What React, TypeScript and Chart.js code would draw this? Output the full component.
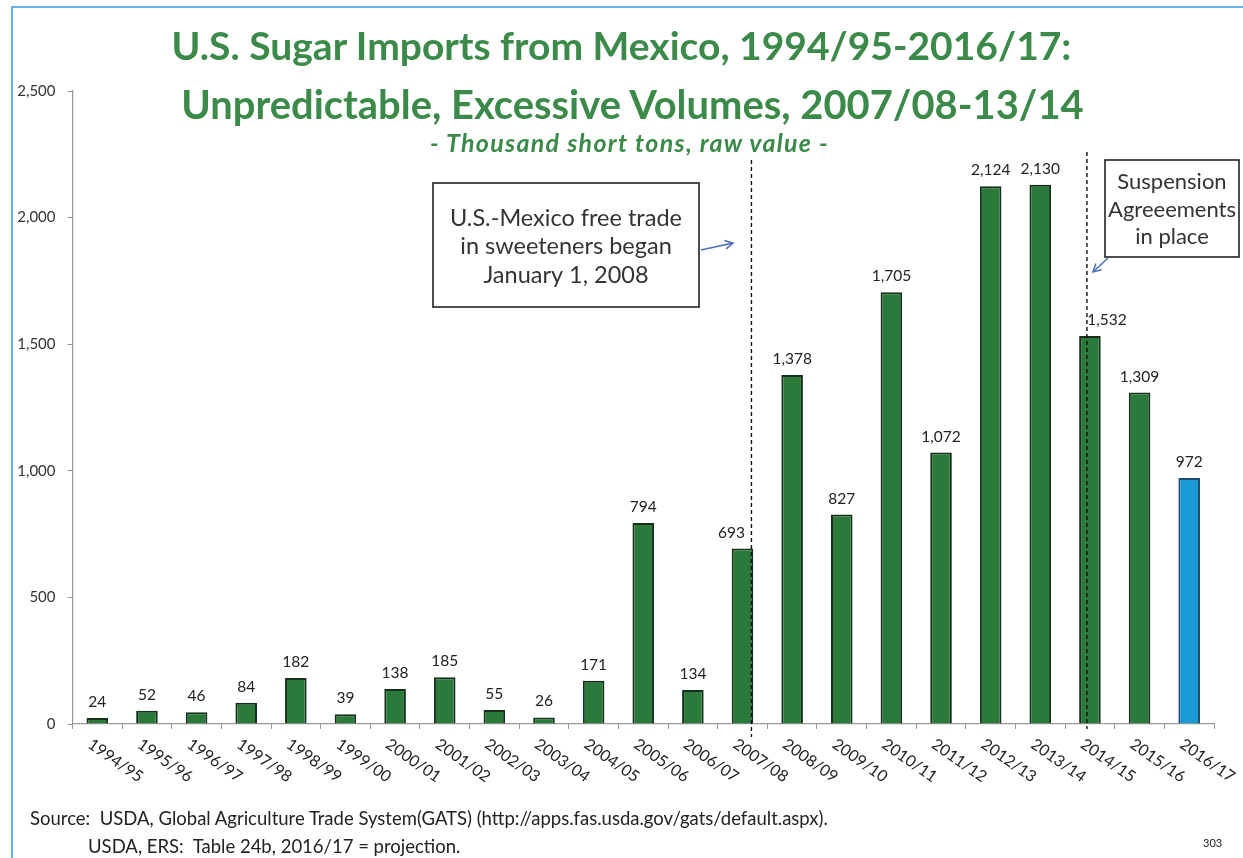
import React, { useEffect, useRef } from "react";
import { Chart, registerables } from "chart.js";

Chart.register(...registerables);

const categories = [
  "1994/95", "1995/96", "1996/97", "1997/98", "1998/99", "1999/00", "2000/01", "2001/02",
  "2002/03", "2003/04", "2004/05", "2005/06", "2006/07", "2007/08", "2008/09", "2009/10",
  "2010/11", "2011/12", "2012/13", "2013/14", "2014/15", "2015/16", "2016/17",
];
const imports = [24, 52, 46, 84, 182, 39, 138, 185, 55, 26, 171, 794, 134, 693, 1378, 827, 1705, 1072, 2124, 2130, 1532, 1309, 972];
const yTicks = [0, 500, 1000, 1500, 2000, 2500];
const projectionLabel = "2016/17";

const GREEN = "#2b7a3b";
const GREEN_EDGE = "#17301b";
const BLUE = "#1a9ad6";
const BLUE_EDGE = "#1b4d6b";
const TITLE_GREEN = "#3b8a4a";
const ARROW = "#4a6fc0";
const FONT = "Lato, 'Open Sans', sans-serif";

function fmt(n: number): string {
  return String(n).replace(/\B(?=(\d{3})+(?!\d))/g, ",");
}

function arrow(ctx: CanvasRenderingContext2D, x1: number, y1: number, x2: number, y2: number) {
  ctx.save();
  ctx.strokeStyle = ARROW;
  ctx.lineWidth = 1.5;
  ctx.beginPath();
  ctx.moveTo(x1, y1);
  ctx.lineTo(x2, y2);
  ctx.stroke();
  const a = Math.atan2(y2 - y1, x2 - x1);
  const h = 9;
  ctx.beginPath();
  ctx.moveTo(x2 - h * Math.cos(a - 0.5), y2 - h * Math.sin(a - 0.5));
  ctx.lineTo(x2, y2);
  ctx.lineTo(x2 - h * Math.cos(a + 0.5), y2 - h * Math.sin(a + 0.5));
  ctx.stroke();
  ctx.restore();
}

function box(ctx: CanvasRenderingContext2D, x: number, y: number, w: number, h: number, lines: string[], size: number, lineH: number, firstY: number) {
  ctx.save();
  ctx.fillStyle = "#fff";
  ctx.fillRect(x, y, w, h);
  ctx.strokeStyle = "#222";
  ctx.lineWidth = 1.6;
  ctx.strokeRect(x, y, w, h);
  ctx.fillStyle = "#333";
  ctx.font = `${size}px ${FONT}`;
  ctx.textAlign = "center";
  ctx.textBaseline = "middle";
  lines.forEach((l, i) => ctx.fillText(l, x + w / 2, firstY + i * lineH));
  ctx.restore();
}

const labelShift: Record<number, number> = { 13: -11, 20: 17 };

const overlayPlugin = {
  id: "overlay",
  afterDatasetsDraw(chart: any) {
    const { ctx } = chart;
    const xs = chart.scales.x;
    const meta = chart.getDatasetMeta(0);
    const step = xs.getPixelForValue(1) - xs.getPixelForValue(0);

    // value labels
    ctx.save();
    ctx.font = `15.5px ${FONT}`;
    ctx.fillStyle = "#222";
    ctx.textAlign = "center";
    ctx.textBaseline = "alphabetic";
    meta.data.forEach((bar: any, i: number) => {
      ctx.fillText(fmt(imports[i]), bar.x + (labelShift[i] || 0), bar.y - 11);
    });

    // rotated category labels
    ctx.textAlign = "left";
    ctx.textBaseline = "top";
    ctx.font = `16px ${FONT}`;
    categories.forEach((c, i) => {
      const px = xs.getPixelForValue(i);
      ctx.save();
      ctx.translate(px - 3, 736);
      ctx.rotate((35 * Math.PI) / 180);
      ctx.fillText(c, 0, 0);
      ctx.restore();
    });
    ctx.restore();

    // dashed event lines
    ctx.save();
    ctx.strokeStyle = "#111";
    ctx.lineWidth = 1.4;
    ctx.setLineDash([4, 3]);
    const x1 = xs.getPixelForValue(13) + 0.18 * step;
    ctx.beginPath();
    ctx.moveTo(x1, 160);
    ctx.lineTo(x1, 737);
    ctx.stroke();
    const x2 = xs.getPixelForValue(20) - 0.06 * step;
    ctx.beginPath();
    ctx.moveTo(x2, 152);
    ctx.lineTo(x2, 729);
    ctx.stroke();
    ctx.restore();

    // annotation boxes
    box(ctx, 433, 183, 266, 124, ["U.S.-Mexico free trade", "in sweeteners began", "January 1, 2008"], 23.5, 28.5, 218);
    arrow(ctx, 701, 250, 733, 243);
    box(ctx, 1105, 160, 134, 97, ["Suspension", "Agreeements", "in place"], 22, 27.5, 182);
    arrow(ctx, 1108, 258, 1093, 272);
  },
};

function ChartView() {
  const ref = useRef<HTMLCanvasElement | null>(null);
  useEffect(() => {
    if (!ref.current) return;
    const chart = new Chart(ref.current, {
      type: "bar",
      data: {
        labels: categories,
        datasets: [
          {
            data: imports,
            backgroundColor: categories.map((c) => (c === projectionLabel ? BLUE : GREEN)),
            borderColor: categories.map((c) => (c === projectionLabel ? BLUE_EDGE : GREEN_EDGE)),
            borderWidth: 2,
            barPercentage: 0.435,
            categoryPercentage: 1,
          },
        ],
      },
      options: {
        responsive: false,
        animation: false,
        events: [],
        layout: { padding: { left: 0, right: 29, top: 91, bottom: 0 } },
        plugins: { legend: { display: false }, title: { display: false }, tooltip: { enabled: false } },
        scales: {
          x: {
            afterFit: (s: any) => { s.height = 134; },
            grid: { display: true, drawOnChartArea: false, drawTicks: true, tickLength: 5, color: "#999", offset: true },
            border: { display: true, color: "#999", width: 1.2 },
            ticks: { display: false },
          },
          y: {
            min: 0,
            max: 2500,
            afterFit: (s: any) => { s.width = 72.5; },
            afterBuildTicks: (s: any) => { s.ticks = yTicks.map((v) => ({ value: v })); },
            grid: { display: true, drawOnChartArea: false, drawTicks: true, tickLength: 5, color: "#999" },
            border: { display: true, color: "#999", width: 1.2 },
            ticks: {
              padding: 12,
              color: "#333",
              font: { family: FONT, size: 15 },
              callback: (v: any) => fmt(Number(v)),
            },
          },
        },
      },
      plugins: [overlayPlugin],
    });
    return () => chart.destroy();
  }, []);
  return <canvas ref={ref} width={1243} height={858} style={{ position: "absolute", left: 0, top: 0 }} />;
}

export default function App() {
  const titleStyle: React.CSSProperties = {
    position: "absolute",
    left: 0,
    width: 1243,
    textAlign: "center",
    color: TITLE_GREEN,
    fontFamily: FONT,
    fontWeight: 700,
    whiteSpace: "nowrap",
    lineHeight: 1,
    margin: 0,
  };
  return (
    <div style={{ position: "fixed", left: 0, top: 0, width: 1243, height: 858, background: "#fff", overflow: "hidden", fontFamily: FONT }}>
      <ChartView />
      <div style={{ position: "absolute", left: 11, top: 6, width: 1300, height: 900, border: "2px solid #6aafe6", boxSizing: "border-box", pointerEvents: "none" }} />
      <div style={{ ...titleStyle, top: 26, fontSize: 39 }}>U.S. Sugar Imports from Mexico, 1994/95-2016/17:</div>
      <div style={{ ...titleStyle, top: 84, fontSize: 39.9, left: 11 }}>Unpredictable, Excessive Volumes, 2007/08-13/14</div>
      <div style={{ ...titleStyle, top: 130, fontSize: 25, fontStyle: "italic", left: 8, letterSpacing: 1.3 }}>- Thousand short tons, raw value -</div>
      <div style={{ position: "absolute", left: 30, top: 804, fontSize: 18.5, color: "#222", whiteSpace: "nowrap", lineHeight: "28px" }}>
        <div>Source:&nbsp;&nbsp;USDA, Global Agriculture Trade System(GATS) (http://apps.fas.usda.gov/gats/default.aspx).</div>
        <div style={{ paddingLeft: 58 }}>USDA, ERS:&nbsp;&nbsp;Table 24b, 2016/17 = projection.</div>
      </div>
      <div style={{ position: "absolute", left: 1203, top: 836, fontSize: 11, color: "#222" }}>303</div>
    </div>
  );
}
